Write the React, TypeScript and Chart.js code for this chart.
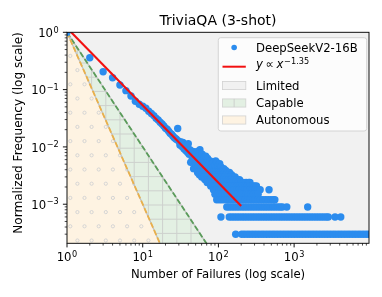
import React, { useEffect, useRef } from 'react';
import { Chart, registerables } from 'chart.js';

Chart.register(...registerables);

// ---------------- text ----------------
const TITLE = 'TriviaQA (3-shot)';
const X_TITLE = 'Number of Failures (log scale)';
const Y_TITLE = 'Normalized Frequency (log scale)';
const SERIES_LABEL = 'DeepSeekV2-16B';
const FIT_EXPONENT_TEXT = '−1.35';
const REGION_LABELS = ['Limited', 'Capable', 'Autonomous'];

// ---------------- axes ----------------
const X_MIN = 1;
const X_MAX = 9750;
const Y_MIN = 2.08e-4;
const Y_MAX = 1;
const X_MAJOR_TICKS = [1, 10, 100, 1000];
const X_TICK_EXPONENTS = ['0', '1', '2', '3'];
const Y_MAJOR_TICKS = [1, 0.1, 0.01, 0.001];
const Y_TICK_EXPONENTS = ['0', '−1', '−2', '−3'];

// ---------------- data ----------------
// count of questions at 1 failure (used to normalise)
const MAX_COUNT = 3350;

const headFailures = [
  1, 2, 3, 4, 5, 6, 7, 8, 9, 10, 11, 12, 13, 14, 15, 16, 17, 18, 19, 20, 21, 22, 23, 24, 25,
  26, 27, 28, 29, 30, 31, 32, 33, 34, 35, 36, 37, 38, 39, 40, 41, 42, 43, 44, 45, 46, 47, 48, 49,
];
const headCounts = [
  3350, 1208, 688, 541, 403, 321, 259, 210, 186, 172, 158, 140, 128, 118, 106, 99, 90, 84, 78, 71,
  68, 63, 58, 56, 52, 49, 47, 45, 70, 42, 36, 41, 34, 40, 31, 35, 29, 33, 27, 38, 25, 30, 18, 26,
  20, 28, 14, 24, 17,
];

const midFailures = [
  50, 51, 52, 53, 54, 55, 56, 57, 58, 59, 60, 61, 62, 63, 64, 65, 66, 67, 68, 69, 70, 72, 74, 76,
  78, 80, 82, 84, 86, 88, 90, 92, 95, 98, 100, 104, 108, 112, 118, 125,
];
const midCounts = [
  27, 16, 22, 28, 15, 19, 24, 30, 14, 21, 17, 25, 13, 20, 16, 22, 14, 18, 23, 15, 19, 21, 16, 18,
  19, 14, 17, 15, 18, 13, 16, 19, 18, 14, 16, 17, 15, 13, 14, 13,
];

const failuresWithCount12 = [53, 57, 62, 67, 71, 77, 83, 89, 97, 105, 113, 122, 131, 140];
const failuresWithCount11 = [56, 61, 66, 72, 78, 85, 91, 99, 107, 116, 126, 137, 149];
const failuresWithCount10 = [60, 65, 70, 76, 82, 89, 96, 103, 111, 121, 132, 144, 157, 166];
const failuresWithCount9 = [66, 72, 78, 84, 91, 98, 106, 115, 125, 136, 148, 161, 175, 190];
const failuresWithCount8 = [71, 77, 83, 90, 97, 105, 114, 123, 133, 144, 156, 169, 183, 198, 214, 232, 250, 261];
const failuresWithCount7 = [79, 86, 93, 101, 109, 118, 128, 139, 150, 162, 176, 190, 206, 223, 241, 262, 283, 300, 318];
const failuresWithCount6 = [86, 93, 101, 109, 118, 128, 138, 150, 162, 175, 189, 205, 222, 240, 260, 281, 304, 329, 356, 466];
const failuresWithCount5 = [90, 97, 105, 113, 122, 132, 143, 155, 167, 181, 196, 212, 229, 248, 268, 290, 313, 335];
const failuresWithCount4 = [
  95, 103, 111, 120, 130, 141, 152, 164, 178, 192, 208, 225, 243, 263, 284, 307, 332, 359, 388,
  420, 454, 491, 530, 556,
];
const failuresWithCount3 = [
  129, 139, 150, 162, 175, 189, 205, 221, 239, 259, 280, 302, 327, 353, 382, 413, 446, 482, 521,
  563, 609, 655, 700, 800, 1510,
];
const failuresWithCount2 = [
  108, 139, 150, 162, 175, 189, 205, 221, 239, 259, 280, 302, 327, 353, 382, 413, 446, 482, 521,
  563, 609, 658, 711, 769, 831, 898, 970, 1049, 1133, 1225, 1324, 1431, 1546, 1671, 1806, 1952,
  2110, 2280, 2464, 2663, 2830, 3470, 4130,
];
const failuresWithCount1 = [
  169, 203, 220, 240, 261, 284, 309, 336, 366, 398, 433, 471, 512, 557, 606, 660, 718, 781, 850,
  925, 1006, 1095, 1191, 1296, 1410, 1535, 1670, 1817, 1977, 2151, 2341, 2547, 2771, 3015, 3281,
  3570, 3884, 4226, 4598, 5003, 5444, 5923, 6445, 7013, 7631, 8303, 9034, 9750,
];

// power-law fit  y ∝ x^-1.35  (end points)
const fitFailures = [1, 200];
const fitFrequencies = [1.19, 9.32e-4];
// region boundaries  (y = x^-2 and y = x^-3)
const capableFailures = [1, 100];
const capableFrequencies = [1, 1e-4];
const autonomousFailures = [1, 21.54];
const autonomousFrequencies = [1, 1e-4];

// ---------------- style ----------------
const FONT = '"DejaVu Sans", "Liberation Sans", sans-serif';
const FS = 11.67;
const SUP = 8.17;
const TITLE_FS = 14;
const BLUE = '#2b8cee';
const RED = '#f21010';
const GRAY_BG = '#f1f1f1';
const GREEN_BG = '#e3f0e3';
const ORANGE_BG = '#fef3e2';
const GREEN_LINE = '#5a9c5a';
const ORANGE_LINE = '#eab04a';
const GRID_HATCH = 'rgba(205,208,205,1)';
const DOT_HATCH = 'rgba(212,212,212,1)';
const EDGE = 'rgba(190,190,190,0.95)';

function buildScatter() {
  const pts: { x: number; y: number }[] = [];
  headFailures.forEach((f, i) => pts.push({ x: f, y: headCounts[i] / MAX_COUNT }));
  midFailures.forEach((f, i) => pts.push({ x: f, y: midCounts[i] / MAX_COUNT }));
  const levels: [number, number[]][] = [
    [12, failuresWithCount12],
    [11, failuresWithCount11],
    [10, failuresWithCount10],
    [9, failuresWithCount9],
    [8, failuresWithCount8],
    [7, failuresWithCount7],
    [6, failuresWithCount6],
    [5, failuresWithCount5],
    [4, failuresWithCount4],
    [3, failuresWithCount3],
    [2, failuresWithCount2],
    [1, failuresWithCount1],
  ];
  levels.forEach(([c, xs]) => xs.forEach((f) => pts.push({ x: f, y: c / MAX_COUNT })));
  return pts;
}

function pairs(xs: number[], ys: number[]) {
  return xs.map((x, i) => ({ x, y: ys[i] }));
}

function minorValues(min: number, max: number) {
  const out: number[] = [];
  for (let e = Math.floor(Math.log10(min)) - 1; e <= Math.ceil(Math.log10(max)); e++) {
    for (let m = 2; m <= 9; m++) {
      const v = m * Math.pow(10, e);
      if (v >= min && v <= max) out.push(v);
    }
  }
  return out;
}

function drawPow(ctx: CanvasRenderingContext2D, exp: string, x: number, baseline: number, align: string, raise: number) {
  ctx.font = `${FS}px ${FONT}`;
  const w1 = ctx.measureText('10').width;
  ctx.font = `${SUP}px ${FONT}`;
  const w2 = ctx.measureText(exp).width;
  const gap = 0.6;
  const total = w1 + gap + w2;
  const left = align === 'center' ? x - total / 2 : x - total;
  ctx.textAlign = 'left';
  ctx.textBaseline = 'alphabetic';
  ctx.font = `${FS}px ${FONT}`;
  ctx.fillText('10', left, baseline);
  ctx.font = `${SUP}px ${FONT}`;
  ctx.fillText(exp, left + w1 + gap, baseline - raise);
}

function gridHatch(ctx: CanvasRenderingContext2D, l: number, t: number, r: number, b: number) {
  ctx.strokeStyle = GRID_HATCH;
  ctx.lineWidth = 1;
  ctx.beginPath();
  for (let x = 120 - 14.2 * 10; x <= r + 1; x += 14.2) {
    if (x < l - 1) continue;
    ctx.moveTo(x, t);
    ctx.lineTo(x, b);
  }
  for (let y = 134 - 14.2 * 10; y <= b + 1; y += 14.2) {
    if (y < t - 1) continue;
    ctx.moveTo(l, y);
    ctx.lineTo(r, y);
  }
  ctx.stroke();
}

function dotHatch(ctx: CanvasRenderingContext2D, l: number, t: number, r: number, b: number) {
  ctx.strokeStyle = DOT_HATCH;
  ctx.lineWidth = 1;
  for (let j = -12; j < 30; j++) {
    const y = 141.1 + 14.2 * j;
    if (y < t - 3 || y > b + 3) continue;
    const x0 = Math.abs(j) % 2 === 0 ? 84.5 : 77.4;
    for (let i = -12; i < 40; i++) {
      const x = x0 + 14.2 * i;
      if (x < l - 3 || x > r + 3) continue;
      ctx.beginPath();
      ctx.arc(x, y, 1.6, 0, Math.PI * 2);
      ctx.stroke();
    }
  }
}

const decorPlugin = {
  id: 'decor',
  beforeDatasetsDraw(chart: any) {
    const { ctx, chartArea: a } = chart;
    ctx.save();
    ctx.fillStyle = GRAY_BG;
    ctx.fillRect(a.left, a.top, a.right - a.left, a.bottom - a.top);
    ctx.restore();
  },
  beforeDatasetDraw(chart: any, args: any) {
    const ds = chart.data.datasets[args.index];
    const role = ds.role;
    if (role !== 'capable' && role !== 'autonomous') return;
    const { ctx, chartArea: a } = chart;
    const pts = args.meta.data;
    const p0 = pts[0];
    const p1 = pts[pts.length - 1];
    ctx.save();
    ctx.beginPath();
    ctx.rect(a.left, a.top, a.right - a.left, a.bottom - a.top);
    ctx.clip();
    ctx.beginPath();
    ctx.moveTo(p0.x, p0.y);
    for (let i = 1; i < pts.length; i++) ctx.lineTo(pts[i].x, pts[i].y);
    ctx.lineTo(p1.x, a.bottom);
    ctx.lineTo(p0.x, a.bottom);
    ctx.closePath();
    ctx.save();
    ctx.clip();
    if (role === 'capable') gridHatch(ctx, a.left, a.top, a.right, a.bottom);
    else dotHatch(ctx, a.left, a.top, a.right, a.bottom);
    ctx.restore();
    // solid gray edge under the dashed boundary
    ctx.strokeStyle = EDGE;
    ctx.lineWidth = 1.3;
    ctx.beginPath();
    ctx.moveTo(p0.x, p0.y);
    for (let i = 1; i < pts.length; i++) ctx.lineTo(pts[i].x, pts[i].y);
    ctx.stroke();
    ctx.restore();
  },
  afterDraw(chart: any) {
    const { ctx, chartArea: a } = chart;
    const xs = chart.scales.x;
    const ys = chart.scales.y;
    ctx.save();
    ctx.fillStyle = '#000';
    ctx.strokeStyle = '#000';

    // ticks
    ctx.lineWidth = 0.93;
    ctx.beginPath();
    X_MAJOR_TICKS.forEach((v) => {
      const px = xs.getPixelForValue(v);
      ctx.moveTo(px, a.bottom);
      ctx.lineTo(px, a.bottom + 4.1);
    });
    Y_MAJOR_TICKS.forEach((v) => {
      const py = ys.getPixelForValue(v);
      ctx.moveTo(a.left, py);
      ctx.lineTo(a.left - 4.1, py);
    });
    ctx.stroke();
    ctx.lineWidth = 0.7;
    ctx.beginPath();
    minorValues(X_MIN, X_MAX).forEach((v) => {
      const px = xs.getPixelForValue(v);
      ctx.moveTo(px, a.bottom);
      ctx.lineTo(px, a.bottom + 2.3);
    });
    minorValues(Y_MIN, Y_MAX).forEach((v) => {
      const py = ys.getPixelForValue(v);
      ctx.moveTo(a.left, py);
      ctx.lineTo(a.left - 2.3, py);
    });
    ctx.stroke();

    // frame
    ctx.lineWidth = 0.93;
    ctx.strokeRect(a.left, a.top, a.right - a.left, a.bottom - a.top);

    // tick labels
    X_MAJOR_TICKS.forEach((v, i) => {
      drawPow(ctx, X_TICK_EXPONENTS[i], xs.getPixelForValue(v), a.bottom + 18, 'center', 4.6);
    });
    Y_MAJOR_TICKS.forEach((v, i) => {
      drawPow(ctx, Y_TICK_EXPONENTS[i], a.left - 8.2, ys.getPixelForValue(v) + 4.8, 'right', 4.6);
    });

    // title & axis titles
    const cx = (a.left + a.right) / 2;
    ctx.textAlign = 'center';
    ctx.textBaseline = 'alphabetic';
    ctx.font = `${TITLE_FS}px ${FONT}`;
    ctx.fillText(TITLE, cx, a.top - 7.3);
    ctx.font = `${FS}px ${FONT}`;
    ctx.fillText(X_TITLE, cx, a.bottom + 34.5);
    ctx.save();
    ctx.translate(21.8, 133);
    ctx.rotate(-Math.PI / 2);
    ctx.font = `12.1px ${FONT}`;
    ctx.fillText(Y_TITLE, 0, 0);
    ctx.restore();

    // legend
    const L = { x: 218.3, y: 37.7, w: 148.4, h: 93.3 };
    ctx.beginPath();
    ctx.roundRect(L.x, L.y, L.w, L.h, 2.5);
    ctx.fillStyle = 'rgba(255,255,255,0.8)';
    ctx.fill();
    ctx.strokeStyle = '#d0d0d0';
    ctx.lineWidth = 0.9;
    ctx.stroke();

    const hx = 222.5;
    const hw = 23.3;
    const tx = 256;
    // scatter entry
    ctx.fillStyle = BLUE;
    ctx.beginPath();
    ctx.arc(hx + hw / 2, 47.5, 2.8, 0, Math.PI * 2);
    ctx.fill();
    ctx.fillStyle = '#000';
    ctx.textAlign = 'left';
    ctx.font = `${FS}px ${FONT}`;
    ctx.fillText(SERIES_LABEL, tx, 51.7);
    // fit entry
    ctx.strokeStyle = RED;
    ctx.lineWidth = 2;
    ctx.beginPath();
    ctx.moveTo(hx, 66.7);
    ctx.lineTo(hx + hw, 66.7);
    ctx.stroke();
    let px = tx;
    const bl = 68;
    ctx.font = `italic ${FS}px ${FONT}`;
    ctx.fillText('y', px, bl);
    px += ctx.measureText('y').width + 2.6;
    ctx.font = `${FS}px ${FONT}`;
    ctx.fillText('∝', px, bl);
    px += ctx.measureText('∝').width + 2.6;
    ctx.font = `italic ${FS}px ${FONT}`;
    ctx.fillText('x', px, bl);
    px += ctx.measureText('x').width + 0.8;
    ctx.font = `${SUP}px ${FONT}`;
    ctx.fillText(FIT_EXPONENT_TEXT, px, bl - 4.2);

    // region patches
    const rows = [85.5, 103, 120];
    const fills = [GRAY_BG, GREEN_BG, ORANGE_BG];
    rows.forEach((ry, i) => {
      const top = ry - 4.1;
      ctx.fillStyle = fills[i];
      ctx.fillRect(hx, top, hw, 8.2);
      if (i === 1) {
        ctx.strokeStyle = GRID_HATCH;
        ctx.lineWidth = 1;
        ctx.beginPath();
        ctx.moveTo(hx + hw / 2, top);
        ctx.lineTo(hx + hw / 2, top + 8.2);
        ctx.stroke();
      }
      ctx.strokeStyle = 'rgba(205,205,205,0.9)';
      ctx.lineWidth = 0.8;
      ctx.strokeRect(hx, top, hw, 8.2);
      ctx.fillStyle = '#000';
      ctx.font = `${FS}px ${FONT}`;
      ctx.fillText(REGION_LABELS[i], tx, ry + 4.2);
    });

    ctx.restore();
  },
};

export default function App() {
  const ref = useRef<HTMLCanvasElement>(null);

  useEffect(() => {
    document.body.style.margin = '0';
    const canvas = ref.current;
    if (!canvas) return;
    const chart = new Chart(canvas, {
      type: 'scatter',
      data: {
        datasets: [
          {
            type: 'line',
            label: 'fit',
            data: pairs(fitFailures, fitFrequencies),
            borderColor: RED,
            borderWidth: 2.1,
            pointRadius: 0,
            fill: false,
            clip: 0,
            order: 0,
          } as any,
          {
            type: 'scatter',
            label: SERIES_LABEL,
            data: buildScatter(),
            backgroundColor: BLUE,
            borderWidth: 0,
            pointRadius: 3.7,
            pointHoverRadius: 3.7,
            clip: 0,
            order: 1,
          } as any,
          {
            type: 'line',
            label: 'autonomous',
            role: 'autonomous',
            data: pairs(autonomousFailures, autonomousFrequencies),
            borderColor: ORANGE_LINE,
            borderWidth: 1.8,
            borderDash: [5.5, 2.5],
            backgroundColor: ORANGE_BG,
            fill: 'start',
            pointRadius: 0,
            clip: 0,
            order: 2,
          } as any,
          {
            type: 'line',
            label: 'capable',
            role: 'capable',
            data: pairs(capableFailures, capableFrequencies),
            borderColor: GREEN_LINE,
            borderWidth: 1.8,
            borderDash: [5.5, 2.5],
            backgroundColor: GREEN_BG,
            fill: 'start',
            pointRadius: 0,
            clip: 0,
            order: 3,
          } as any,
        ],
      },
      options: {
        responsive: false,
        animation: false,
        events: [],
        layout: { padding: { top: 32.3, right: 13, left: 0, bottom: 0 } },
        plugins: {
          legend: { display: false },
          title: { display: false },
          tooltip: { enabled: false },
        },
        scales: {
          x: {
            type: 'logarithmic',
            min: X_MIN,
            max: X_MAX,
            bounds: 'data',
            grid: { display: false },
            border: { display: false },
            ticks: { display: false },
            afterFit: (s: any) => {
              s.height = 53.7;
            },
          },
          y: {
            type: 'logarithmic',
            min: Y_MIN,
            max: Y_MAX,
            bounds: 'data',
            grid: { display: false },
            border: { display: false },
            ticks: { display: false },
            afterFit: (s: any) => {
              s.width = 67;
            },
          },
        },
      } as any,
      plugins: [decorPlugin as any],
    });
    return () => chart.destroy();
  }, []);

  return (
    <div style={{ width: 382, height: 297 }}>
      <canvas ref={ref} width={382} height={297} style={{ display: 'block' }} />
    </div>
  );
}
